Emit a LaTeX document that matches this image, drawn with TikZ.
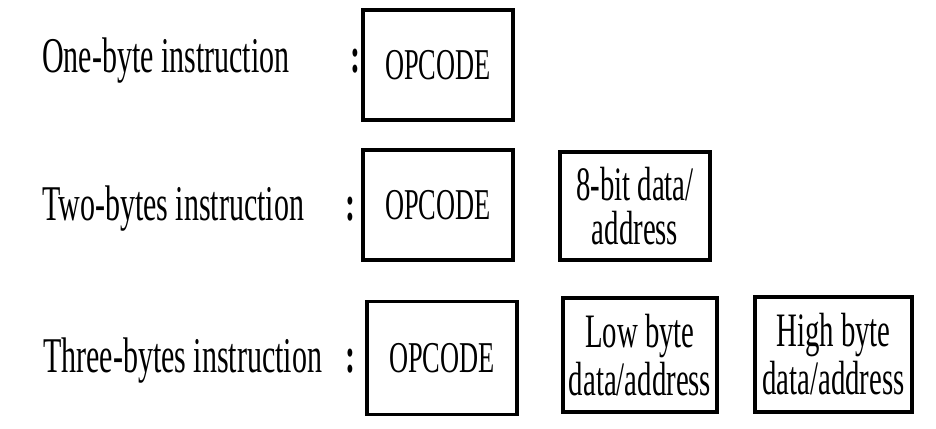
\documentclass[tikz,border=0pt]{standalone}
\usepackage{fontspec}
\setmainfont[FakeStretch=0.6]{Liberation Serif}
\begin{document}
\begin{tikzpicture}[x=1pt,y=-1pt,
  lbl/.style={anchor=base west,inner sep=0pt,font=\fontsize{50}{50}\selectfont},
  colon/.style={anchor=base,inner sep=0pt,font=\fontsize{50}{50}\selectfont\bfseries},
  bytebox/.style={draw=black,line width=3.2pt,inner sep=0pt,align=center,
    minimum width=#1},
  opc/.style={font=\fontsize{44}{44}\selectfont},
  two/.style={font=\fontsize{48}{48}\selectfont}
]
\useasboundingbox (0,0) rectangle (936,428);
% row 1
\node[lbl] (l1) at (42,73) {One-byte instruction};
\node[colon] (c1) at (355,72) {:};
\node[bytebox=150pt,minimum height=110pt,opc] (o1) at (438,65) {OPCODE};
% row 2
\node[lbl] (l2) at (42,220) {Two-bytes instruction};
\node[colon] (c2) at (350,220) {:};
\node[bytebox=150pt,minimum height=110pt,opc] (o2) at (438,205) {OPCODE};
\node[bytebox=150pt,minimum height=108pt,two] (d2) at (635,206) {8-bit data/\\[-4pt]address};
% row 3
\node[lbl] (l3) at (43,372) {Three-bytes instruction};
\node[colon] (c3) at (350,372) {:};
\node[bytebox=150pt,minimum height=113pt,opc] (o3) at (442,358) {OPCODE};
\node[bytebox=154pt,minimum height=114pt,two] (lo3) at (640,355) {Low byte\\data/address};
\node[bytebox=157pt,minimum height=115pt,two] (hi3) at (833.5,354.5) {High byte\\data/address};
\end{tikzpicture}
\end{document}
